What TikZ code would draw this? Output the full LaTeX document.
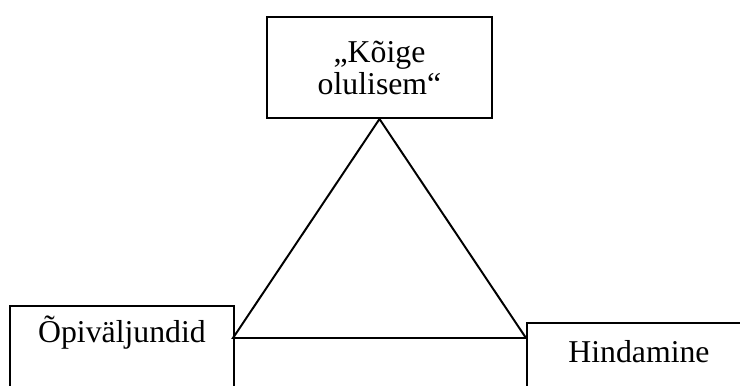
\documentclass[tikz,border=0pt]{standalone}
\usepackage{fontspec}
\setmainfont{Liberation Serif}
\tikzset{kast/.style={draw, rectangle, line width=1.4pt, inner sep=0pt, align=center, font=\fontsize{22.6}{22.8}\selectfont}}
\begin{document}
\begin{tikzpicture}
    \useasboundingbox (0,0) rectangle (18.5,-9.65);
    \clip (0,0) rectangle (18.5,-9.65);

    \node[kast, minimum width=5.625cm, minimum height=2.525cm] (A) at (9.4875,-1.6875) {„Kõige\\olulisem“};
    \node[kast, anchor=north west, text width=5.6cm, text height=0.925cm, text depth=1.6cm] (B) at (0.225,-7.625) {Õpiväljundid};
    \node[kast, anchor=north west, text width=5.6cm, text height=1.0cm, text depth=1.5cm] (C) at (13.15,-8.05) {Hindamine};

    \coordinate (B1) at (5.825,-8.45);
    \coordinate (C1) at (13.15,-8.45);

    \draw[line width=1.4pt] (A.south) -- (B1) -- (C1) -- cycle;
\end{tikzpicture}
\end{document}
